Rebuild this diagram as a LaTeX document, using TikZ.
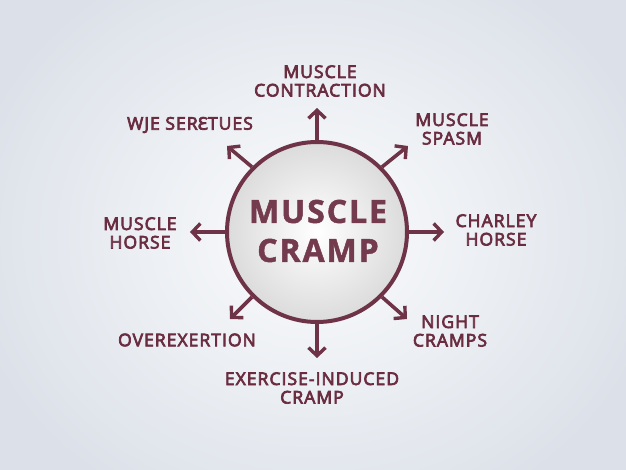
\documentclass[tikz,border=0pt]{standalone}
\usepackage{fontspec}
\setmainfont{Open Sans}
\newfontfamily\labfont[FakeBold=4,LetterSpace=6]{Open Sans}
\newfontfamily\cenfont[FakeBold=1.5,LetterSpace=6]{Open Sans Bold}
\newfontfamily\djv[FakeBold=4]{Noto Sans}
\usetikzlibrary{arrows.meta}
\definecolor{maroon}{HTML}{6E3346}
\definecolor{labc}{HTML}{6A2D40}
\definecolor{cenc}{HTML}{743A4E}
\definecolor{bgout}{HTML}{DCE1E9}
\definecolor{bgin}{HTML}{FBFCFD}
\tikzset{
  lab/.style={text=labc, font=\labfont\fontsize{17.5}{18.5}\selectfont, align=center, inner sep=0pt},
  spoke/.style={draw=maroon, line width=3.6pt, -{Straight Barb[length=8pt,width=17pt,line width=3.4pt]}},
}
\begin{document}
\begin{tikzpicture}[x=1pt,y=-1pt]
\useasboundingbox (0,0) rectangle (626,470);
\shade[inner color=bgin, outer color=bgout] (-40,-70) rectangle (666,540);
\node[circle, minimum size=180pt, inner sep=0pt, draw=maroon, line width=4pt, shading=radial, inner color=white, outer color=gray!28] (c) at (317,232) {};
\node[text=cenc, font=\cenfont\fontsize{32}{39}\selectfont, align=center, inner sep=0pt] at (318,231) (ct) {MUSCLE\\CRAMP};
% tips
\coordinate (tN) at (317,108);
\coordinate (tS) at (317,358);
\coordinate (tE) at (444,232);
\coordinate (tW) at (190,232);
\coordinate (tNE) at (408,146);
\coordinate (tNW) at (227,146);
\coordinate (tSE) at (407,319);
\coordinate (tSW) at (230,319);
\draw[spoke] (c.90) -- (tN);
\draw[spoke] (c.270) -- (tS);
\draw[spoke] (c.0) -- (tE);
\draw[spoke] (c.180) -- (tW);
\draw[spoke] (c.45) -- (tNE);
\draw[spoke] (c.135) -- (tNW);
\draw[spoke] (c.-45) -- (tSE);
\draw[spoke] (c.-135) -- (tSW);
% labels
\node[lab] (lN) at (320,81) {MUSCLE\\CONTRACTION};
\node[lab] (lNW) at (190,125) {WJE SER{\djv\fontsize{17.5}{18}\selectfont Ɛ}TUES};
\node[lab] (lNE) at (452,129) {MUSCLE\\SPASM};
\node[lab] (lW) at (140,233) {MUSCLE\\HORSE};
\node[lab] (lE) at (496,230) {CHARLEY\\HORSE};
\node[lab] (lSW) at (187,340) {OVEREXERTION};
\node[lab] (lSE) at (450,331) {NIGHT\\CRAMPS};
\node[lab] (lS) at (312,388) {EXERCISE-INDUCED\\CRAMP};
\end{tikzpicture}
\end{document}
